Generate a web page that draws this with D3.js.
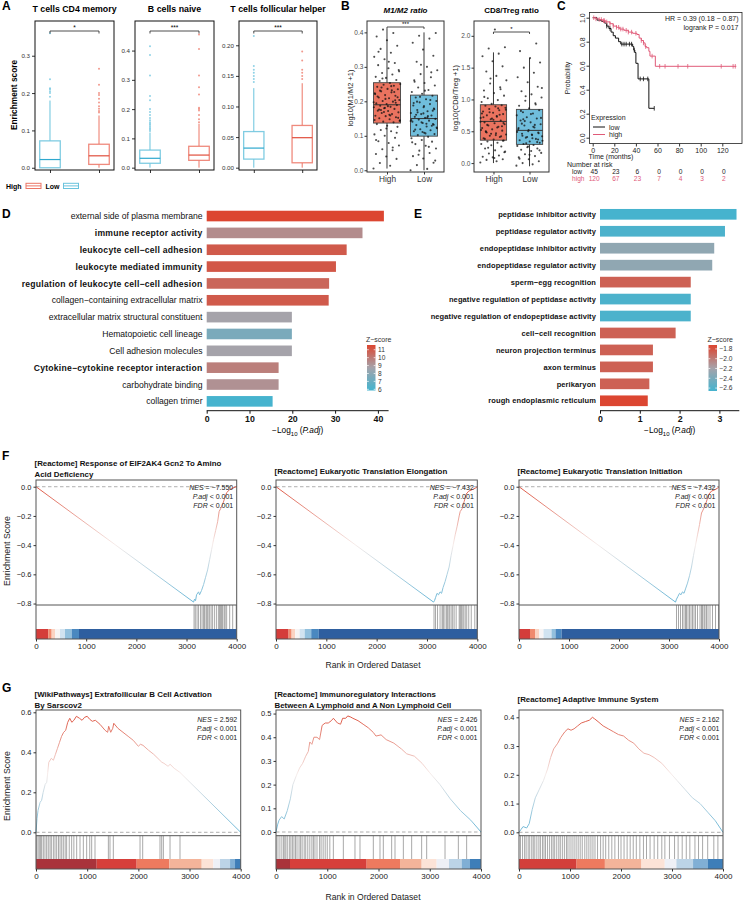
<!DOCTYPE html>
<html>
<head>
<meta charset="utf-8">
<script src="https://cdn.jsdelivr.net/npm/d3@7"></script>
<style>
  body { margin: 0; background: #fff; }
  svg { display: block; }
</style>
</head>
<body>
<script>
// ---------------- data ----------------

// A: immune cell enrichment, box stats = [lower whisker, Q1, median, Q3, upper whisker]
const aTitles = ["T cells CD4 memory", "B cells naive", "T cells follicular helper"];
const aGroups = ["Low", "High"];
const aSig = ["*", "***", "***"];
const cd4Low = [0, 0, 0.022, 0.072, 0.18];
const cd4High = [0, 0.009, 0.032, 0.063, 0.14];
const cd4LowOut = [0.19, 0.2, 0.205, 0.21, 0.213, 0.237, 0.36];
const cd4HighOut = [0.148, 0.152, 0.158, 0.165, 0.175, 0.185, 0.195, 0.2, 0.222, 0.265];
const bNaiveLow = [0, 0.015, 0.032, 0.06, 0.12];
const bNaiveHigh = [0, 0.025, 0.043, 0.073, 0.15];
const bNaiveLowOut = [0.125, 0.13, 0.135, 0.14, 0.146, 0.15, 0.155, 0.162, 0.17, 0.18, 0.19, 0.2, 0.23, 0.245, 0.315, 0.385, 0.415];
const bNaiveHighOut = [0.155, 0.165, 0.18, 0.195, 0.2, 0.205, 0.25, 0.275, 0.315, 0.405, 0.455];
const tfhLow = [0, 0.014, 0.032, 0.059, 0.13];
const tfhHigh = [0, 0.008, 0.049, 0.069, 0.138];
const tfhLowOut = [0.14, 0.145, 0.15, 0.155, 0.16, 0.166, 0.215];
const tfhHighOut = [0.145, 0.15, 0.155, 0.16, 0.175, 0.19];
const aTicks = [[0, 0.1, 0.2, 0.3], [0, 0.1, 0.2, 0.3, 0.4], [0, 0.05, 0.1, 0.15, 0.2]];

// B: macrophage / T cell ratios
const bTitles = ["M1/M2 ratio", "CD8/Treg ratio"];
const bYLabels = ["log10(M1/M2 +1)", "log10(CD8/Treg +1)"];
const bGroups = ["High", "Low"];
const bSig = ["***", "*"];
const m1m2HighBox = [0.005, 0.137, 0.19, 0.254, 0.41];
const m1m2LowBox = [0.0, 0.099, 0.15, 0.218, 0.40];
const cd8HighBox = [0.0, 0.36, 0.655, 0.917, 1.74];
const cd8LowBox = [-0.05, 0.294, 0.514, 0.844, 1.65];
const m1m2High = [0.005, 0.013, 0.021, 0.033, 0.04, 0.047, 0.058, 0.061, 0.072, 0.079, 0.084, 0.094, 0.1, 0.104, 0.113, 0.117, 0.126, 0.129, 0.134,
  0.139, 0.141, 0.145, 0.148, 0.151, 0.154, 0.157, 0.158, 0.163, 0.166, 0.168, 0.172, 0.173, 0.178, 0.18, 0.183, 0.184, 0.187, 0.189,
  0.192, 0.194, 0.199, 0.201, 0.204, 0.209, 0.211, 0.216, 0.218, 0.223, 0.226, 0.229, 0.235, 0.236, 0.242, 0.245, 0.248, 0.25, 0.253,
  0.259, 0.262, 0.268, 0.271, 0.278, 0.282, 0.291, 0.296, 0.305, 0.311, 0.322, 0.329, 0.341, 0.352, 0.361, 0.377, 0.388, 0.398, 0.408,
  0.143, 0.161, 0.176, 0.196, 0.207, 0.221, 0.232, 0.24, 0.152, 0.186, 0.214, 0.227, 0.169, 0.197, 0.159, 0.231, 0.109, 0.121,
  0.088, 0.066, 0.266, 0.287, 0.315, 0.344, 0.203, 0.181, 0.146, 0.244, 0.175, 0.212];
const m1m2Low = [0.0, 0.004, 0.015, 0.022, 0.034, 0.041, 0.05, 0.057, 0.063, 0.071, 0.076, 0.083, 0.088, 0.093, 0.097,
  0.102, 0.105, 0.109, 0.113, 0.116, 0.119, 0.122, 0.127, 0.131, 0.134, 0.137, 0.141, 0.144, 0.147, 0.149,
  0.152, 0.155, 0.159, 0.163, 0.166, 0.171, 0.175, 0.179, 0.183, 0.188, 0.192, 0.197, 0.201, 0.206, 0.211, 0.216,
  0.222, 0.227, 0.233, 0.24, 0.246, 0.253, 0.261, 0.27, 0.279, 0.29, 0.3, 0.315, 0.332, 0.35, 0.37, 0.382, 0.39, 0.398,
  0.107, 0.118, 0.129, 0.139, 0.146, 0.157, 0.168, 0.177, 0.186, 0.195, 0.204, 0.213, 0.124, 0.135, 0.161, 0.173, 0.111,
  0.081, 0.068, 0.045, 0.028, 0.231, 0.257, 0.284, 0.306, 0.143, 0.153, 0.199, 0.132, 0.165];
const cd8High = [0.01, 0.03, 0.05, 0.06, 0.09, 0.1, 0.12, 0.15, 0.18, 0.2, 0.23, 0.26, 0.28, 0.3, 0.32, 0.34, 0.355,
  0.37, 0.39, 0.41, 0.43, 0.45, 0.47, 0.49, 0.51, 0.53, 0.55, 0.57, 0.59, 0.61, 0.625, 0.64,
  0.67, 0.69, 0.71, 0.73, 0.75, 0.77, 0.79, 0.81, 0.83, 0.85, 0.87, 0.89, 0.9, 0.91,
  0.93, 0.96, 0.99, 1.02, 1.06, 1.1, 1.14, 1.19, 1.25, 1.3, 1.37, 1.44, 1.52, 1.6, 1.68, 1.72, 1.8, 1.82, 2.1,
  0.38, 0.42, 0.46, 0.52, 0.56, 0.6, 0.63, 0.68, 0.72, 0.76, 0.8, 0.84, 0.44, 0.5, 0.58, 0.7, 0.78, 0.86,
  0.24, 0.17, 0.08, 1.04, 1.16, 1.33, 0.65, 0.74, 0.48, 0.35];
const cd8Low = [-0.04, -0.02, 0.0, 0.03, 0.06, 0.09, 0.11, 0.14, 0.16, 0.19, 0.21, 0.23, 0.25, 0.27, 0.285,
  0.3, 0.32, 0.34, 0.36, 0.38, 0.4, 0.42, 0.44, 0.46, 0.48, 0.5,
  0.53, 0.56, 0.59, 0.61, 0.64, 0.67, 0.7, 0.72, 0.75, 0.78, 0.8, 0.83,
  0.86, 0.9, 0.94, 0.98, 1.03, 1.08, 1.13, 1.2, 1.27, 1.35, 1.42, 1.5, 1.58, 1.65, 1.76, 1.88,
  0.31, 0.35, 0.39, 0.43, 0.47, 0.52, 0.55, 0.6, 0.66, 0.71, 0.77, 0.82, 0.33, 0.41, 0.49, 0.57, 0.69,
  0.2, 0.13, 0.07, 0.92, 1.05, 1.18, 0.45, 0.62, 0.37, 0.26];
const bTicks = [[0, 0.1, 0.2, 0.3, 0.4], [0, 0.5, 1, 1.5, 2]];

// C: Kaplan-Meier
const kmMonths = [0, 20, 40, 60, 80, 100, 120];
const lowTimes = [0, 4, 8, 11, 13, 15, 17, 19, 21, 24, 26, 37, 38, 39, 40, 42, 52];
const lowSurv = [1.0, 0.98, 0.97, 0.955, 0.93, 0.91, 0.88, 0.85, 0.83, 0.80, 0.78, 0.76, 0.73, 0.71, 0.62, 0.49, 0.245];
const lowEnd = 57;
const lowCensor = [13, 16, 27, 29, 31, 34, 36, 38.5, 44, 47, 51, 57];
const highTimes = [0, 3, 6, 9, 12, 16, 19, 22, 25, 29, 33, 37, 41, 43, 45, 47, 48.5, 50, 52, 53, 58];
const highSurv = [1.0, 0.99, 0.985, 0.975, 0.965, 0.95, 0.93, 0.92, 0.905, 0.895, 0.88, 0.87, 0.86, 0.83, 0.81, 0.79, 0.76, 0.75, 0.72, 0.68, 0.595];
const highEnd = 133;
const highCensor = [1, 3, 6, 8, 10, 11, 13, 16, 19, 22, 24, 26, 28, 31, 33, 36, 40, 45, 47, 49, 55, 62, 67, 79, 88, 119, 130, 132];
const riskLow = [45, 23, 6, 0, 0, 0, 0];
const riskHigh = [120, 67, 23, 7, 4, 3, 2];

// D / E: enrichment bars
const dTerms = ["external side of plasma membrane", "immune receptor activity", "leukocyte cell−cell adhesion",
  "leukocyte mediated immunity", "regulation of leukocyte cell−cell adhesion", "collagen−containing extracellular matrix",
  "extracellular matrix structural constituent", "Hematopoietic cell lineage", "Cell adhesion molecules",
  "Cytokine−cytokine receptor interaction", "carbohydrate binding", "collagen trimer"];
const dValues = [41.4, 36.4, 32.7, 30.2, 28.6, 28.5, 19.9, 19.9, 19.9, 16.8, 16.8, 15.4];
const dZ = [11.55, 9.45, 10.95, 11.05, 10.6, 10.95, 8.75, 7.5, 8.75, 9.85, 9.3, 6.0];
const dZTicks = [6, 7, 8, 9, 10, 11];
const dXTicks = [0, 10, 20, 30, 40];
const eTerms = ["peptidase inhibitor activity", "peptidase regulator activity", "endopeptidase inhibitor activity",
  "endopeptidase regulator activity", "sperm−egg recognition", "negative regulation of peptidase activity",
  "negative regulation of endopeptidase activity", "cell−cell recognition", "neuron projection terminus",
  "axon terminus", "perikaryon", "rough endoplasmic reticulum"];
const eValues = [3.43, 3.14, 2.87, 2.82, 2.28, 2.28, 2.28, 1.90, 1.33, 1.33, 1.24, 1.20];
const eZ = [-2.65, -2.62, -2.3, -2.3, -1.87, -2.62, -2.62, -1.87, -1.87, -1.87, -1.87, -1.74];
const eZTicks = [-2.6, -2.4, -2.2, -2.0, -1.8];
const eXTicks = [0, 1, 2, 3];

// F / G: GSEA
const rankTicks = [0, 1000, 2000, 3000, 4000];
const fTitles = [["[Reactome] Response of EIF2AK4 Gcn2 To Amino", "Acid Deficiency"],
  ["[Reactome] Eukaryotic Translation Elongation"], ["[Reactome] Eukaryotic Translation Initiation"]];
const fNES = ["−7.550", "−7.432", "−7.432"];
const gTitles = [["[WikiPathways] Extrafollicular B Cell Activation", "By Sarscov2"],
  ["[Reactome] Immunoregulatory Interactions", "Between A Lymphoid and A Non Lymphoid Cell"],
  ["[Reactome] Adaptive Immune System"]];
const gNES = ["2.592", "2.426", "2.162"];
const fTicks = [-0.8, -0.6, -0.4, -0.2, 0.0];
const gTicks = [[0, 0.2, 0.4, 0.6], [0, 0.1, 0.2, 0.3, 0.4, 0.5], [0, 0.1, 0.2, 0.3, 0.4]];

const f1ES = [[0, 0], [3140, -0.79], [3160, -0.77], [3180, -0.78], [3200, -0.74], [3240, -0.72], [3260, -0.74], [3300, -0.71],
  [3340, -0.67], [3380, -0.62], [3420, -0.57], [3460, -0.5], [3500, -0.43], [3540, -0.36], [3580, -0.3], [3620, -0.24],
  [3650, -0.17], [3680, -0.15], [3720, -0.12], [3760, -0.08], [3800, -0.04], [3860, -0.02], [3920, -0.01], [3990, 0.0], [4000, 0.0]];
const f2ES = [[0, 0], [3130, -0.79], [3150, -0.78], [3170, -0.76], [3200, -0.73], [3230, -0.74], [3260, -0.72], [3290, -0.73],
  [3320, -0.69], [3360, -0.65], [3400, -0.6], [3440, -0.55], [3480, -0.47], [3520, -0.4], [3560, -0.33], [3600, -0.27],
  [3640, -0.2], [3660, -0.17], [3700, -0.15], [3740, -0.1], [3780, -0.05], [3830, -0.03], [3900, -0.02], [3960, -0.01], [4000, 0.0]];
const f3ES = [[0, 0], [3130, -0.79], [3150, -0.77], [3180, -0.75], [3210, -0.73], [3240, -0.74], [3270, -0.72], [3300, -0.73],
  [3330, -0.7], [3370, -0.66], [3410, -0.61], [3450, -0.55], [3490, -0.47], [3530, -0.4], [3570, -0.33], [3610, -0.26],
  [3650, -0.18], [3680, -0.16], [3720, -0.13], [3760, -0.09], [3800, -0.05], [3850, -0.03], [3920, -0.02], [3970, -0.01], [4000, 0.0]];
const g1ES = [[0, 0], [20, 0.07], [40, 0.11], [80, 0.15], [110, 0.16], [140, 0.2], [180, 0.24], [210, 0.25], [230, 0.3], [250, 0.35],
  [300, 0.37], [340, 0.36], [380, 0.39], [420, 0.42], [460, 0.45], [500, 0.48], [540, 0.5], [580, 0.51], [620, 0.55], [660, 0.57],
  [700, 0.55], [740, 0.56], [790, 0.58], [850, 0.57], [900, 0.56], [950, 0.575], [1000, 0.58], [1050, 0.565], [1100, 0.555],
  [1160, 0.56], [1250, 0.54], [1350, 0.51], [1400, 0.5], [1420, 0.53], [1460, 0.5], [1500, 0.52], [1520, 0.545], [1600, 0.52],
  [1700, 0.5], [1800, 0.48], [1900, 0.46], [2000, 0.43], [2040, 0.44], [2090, 0.435], [2200, 0.41], [2300, 0.39], [2420, 0.36],
  [2460, 0.35], [2500, 0.345], [2580, 0.33], [2620, 0.34], [2700, 0.32], [2810, 0.3], [4000, 0.0]];
const g2ES = [[0, 0], [30, 0.03], [60, 0.05], [110, 0.065], [160, 0.055], [220, 0.09], [280, 0.14], [330, 0.2], [400, 0.24],
  [460, 0.27], [520, 0.29], [580, 0.32], [630, 0.34], [660, 0.38], [700, 0.37], [740, 0.4], [800, 0.4], [850, 0.39], [900, 0.45],
  [960, 0.46], [1020, 0.46], [1080, 0.47], [1120, 0.48], [1200, 0.46], [1260, 0.455], [1300, 0.48], [1360, 0.48], [1400, 0.49],
  [1460, 0.485], [1500, 0.48], [1600, 0.47], [1700, 0.455], [1800, 0.44], [1900, 0.42], [1950, 0.405], [2050, 0.41], [2150, 0.39],
  [2300, 0.375], [2450, 0.35], [2550, 0.33], [2700, 0.32], [2850, 0.29], [3000, 0.25], [3200, 0.2], [3400, 0.14], [3600, 0.09],
  [3800, 0.05], [4000, 0.0]];
const g3ES = [[0, 0], [40, 0.01], [80, 0.02], [150, 0.015], [200, 0.03], [260, 0.08], [320, 0.12], [400, 0.15], [480, 0.18],
  [560, 0.22], [620, 0.26], [680, 0.29], [760, 0.31], [820, 0.33], [900, 0.35], [960, 0.36], [1020, 0.355], [1080, 0.36],
  [1150, 0.37], [1220, 0.38], [1300, 0.385], [1380, 0.39], [1440, 0.4], [1480, 0.395], [1550, 0.385], [1650, 0.37], [1750, 0.36],
  [1850, 0.35], [1950, 0.34], [2050, 0.335], [2150, 0.32], [2250, 0.31], [2350, 0.29], [2450, 0.275], [2550, 0.27], [2650, 0.26],
  [2800, 0.24], [2950, 0.21], [3100, 0.18], [3250, 0.15], [3400, 0.12], [3550, 0.1], [3700, 0.07], [3850, 0.04], [4000, 0.0]];

const f1Hits = [3150, 3175, 3210, 3240, 3280, 3310, 3340, 3360, 3390, 3410, 3430, 3460, 3490, 3520, 3560, 3600, 3640, 3660, 3680, 3700, 3720, 3750, 3770, 3800, 3860, 3920, 3990];
const f2Hits = [3140, 3170, 3210, 3260, 3300, 3320, 3340, 3380, 3400, 3420, 3450, 3480, 3510, 3540, 3580, 3640, 3660, 3680, 3700, 3730, 3760, 3790, 3830, 3880, 3950, 3995];
const f3Hits = [3150, 3190, 3230, 3270, 3300, 3330, 3350, 3380, 3410, 3440, 3470, 3500, 3530, 3570, 3620, 3650, 3670, 3700, 3720, 3750, 3780, 3820, 3870, 3930, 3990];
const g1Hits = [13, 40, 65, 90, 111, 143, 175, 208, 240, 274, 300, 339, 371, 404, 440, 470, 502, 534, 570, 599, 650, 697, 740, 795,
  860, 925, 990, 1050, 1088, 1153, 1414, 1446, 1511, 2033, 2085, 2423, 2456, 2489, 2619, 2814];
const g2Hits = [20, 60, 100, 140, 160, 190, 220, 260, 290, 320, 350, 380, 410, 450, 480, 510, 550, 580, 620, 660, 700, 730, 760,
  800, 850, 880, 920, 960, 1000, 1050, 1119, 1314, 1541, 1639, 1899, 2029, 2094, 2257, 2322, 2485, 2647, 2842, 2940, 3298, 3558, 3720];
const g3Hits = [30, 70, 110, 140, 180, 210, 250, 280, 310, 350, 390, 420, 460, 490, 520, 560, 600, 640, 670, 700, 740, 780, 810,
  850, 890, 930, 960, 1000, 1040, 1080, 1120, 1160, 1200, 1240, 1290, 1330, 1370, 1410, 1450, 1490, 1540, 1600, 1650, 1700, 1760,
  1820, 1880, 1950, 2000, 2060, 2120, 2180, 2240, 2300, 2370, 2440, 2500, 2570, 2650, 2720, 2800, 2860, 2950, 3050, 3120, 3200,
  3280, 3350, 3450, 3520, 3600, 3700, 3820, 3900];

// ranked-list colour bands: band edges (rank) and colours
const f1Bands = [0, 246, 312, 379, 478, 578, 711, 857, 4000];
const f2Bands = [0, 250, 310, 380, 470, 570, 700, 850, 4000];
const f3Bands = [0, 220, 320, 400, 490, 650, 730, 853, 4000];
const fBandColors = ["#D43D3A", "#F08A6E", "#FBD3C2", "#F7F4F4", "#D1E3F0", "#92C0DD", "#4A88C0", "#2E5E9F"];
const g1Bands = [0, 1186, 1967, 2606, 3238, 3466, 3596, 3792, 3889, 4000];
const g2Bands = [0, 273, 1769, 2420, 2842, 3135, 3376, 3622, 3785, 4000];
const gBandColors = ["#A9333B", "#D63F3A", "#EE7A5F", "#F4B49A", "#FCE3D7", "#EEF0F6", "#BCD4E7", "#80AFD5", "#3E7EB8"];
const g3Bands = [0, 1129, 1684, 2401, 2858, 3086, 3413, 3706, 4000];
const g3BandColors = ["#D33F3A", "#EE7A5F", "#F4B49A", "#FCE3D7", "#EEF0F6", "#BCD4E7", "#80AFD5", "#3E7EB8"];

// ---------------- drawing ----------------
const FONT = '"Liberation Sans", Arial, Helvetica, sans-serif';
const svg = d3.select("body").append("svg")
  .attr("width", 745).attr("height", 903)
  .attr("font-family", FONT);
const defs = svg.append("defs");

function txt(x, y, s, size, o = {}) {
  const t = svg.append("text").attr("x", x).attr("y", y)
    .attr("font-size", size)
    .attr("text-anchor", o.anchor || "start")
    .attr("fill", o.fill || "#000");
  if (o.bold) t.attr("font-weight", "bold");
  if (o.italic) t.attr("font-style", "italic");
  if (o.rotate) t.attr("transform", `rotate(${o.rotate},${x},${y})`);
  if (o.spacing) t.attr("letter-spacing", o.spacing);
  t.text(s);
  return t;
}

function styleAxis(sel, size, color, bold) {
  sel.attr("font-family", FONT);
  sel.select(".domain").remove();
  sel.selectAll("line").attr("stroke", "#333");
  sel.selectAll("text").attr("font-size", size).attr("fill", color || "#333")
    .attr("font-weight", bold ? "bold" : null);
  return sel;
}

// panel letters
[["A", 2, 10], ["B", 341, 10], ["C", 557, 10], ["D", 2, 218], ["E", 414, 218], ["F", 2, 460], ["G", 2, 692]]
  .forEach(([s, x, y]) => txt(x, y, s, 12, { bold: true }));

// ===== A =====
const aFrames = [[35, 114], [135, 214], [239, 317]];
const aDomains = [[-0.006, 0.393], [-0.008, 0.501], [-0.0038, 0.2397]];
const aStats = [[cd4Low, cd4High], [bNaiveLow, bNaiveHigh], [tfhLow, tfhHigh]];
const aOut = [[cd4LowOut, cd4HighOut], [bNaiveLowOut, bNaiveHighOut], [tfhLowOut, tfhHighOut]];
const aStroke = { Low: "#6AC3DD", High: "#EC7666" };
const aMedian = { Low: "#2EA8CE", High: "#E04E3C" };
const aTop = 21, aBot = 170;

aTitles.forEach((title, i) => {
  const [x0, x1] = aFrames[i];
  const y = d3.scaleLinear().domain(aDomains[i]).range([aBot, aTop]);
  const x = d3.scalePoint().domain(aGroups).range([x0, x1]).padding(0.306);
  const bw = (x1 - x0) * 0.26;
  txt((x0 + x1) / 2, 12, title, 8.8, { bold: true, anchor: "middle" });

  styleAxis(svg.append("g").attr("transform", `translate(${x0},0)`)
    .call(d3.axisLeft(y).tickValues(aTicks[i]).tickSize(3).tickPadding(2)
      .tickFormat(d3.format(i === 2 ? ".2f" : ".1f"))), 6.2);
  styleAxis(svg.append("g").attr("transform", `translate(0,${aBot})`)
    .call(d3.axisBottom(x).tickSize(3).tickFormat("")), 6);

  aGroups.forEach((grp, j) => {
    const s = aStats[i][j], cx = x(grp), c = aStroke[grp];
    const g = svg.append("g");
    g.append("line").attr("x1", cx).attr("x2", cx).attr("y1", y(s[0])).attr("y2", y(s[1]))
      .attr("stroke", c).attr("stroke-width", 1);
    g.append("line").attr("x1", cx).attr("x2", cx).attr("y1", y(s[3])).attr("y2", y(s[4]))
      .attr("stroke", c).attr("stroke-width", 1);
    g.append("rect").attr("x", cx - bw / 2).attr("width", bw)
      .attr("y", y(s[3])).attr("height", y(s[1]) - y(s[3]))
      .attr("fill", "#fff").attr("stroke", c).attr("stroke-width", 1.3).attr("stroke-opacity", 0.85);
    g.append("line").attr("x1", cx - bw / 2).attr("x2", cx + bw / 2).attr("y1", y(s[2])).attr("y2", y(s[2]))
      .attr("stroke", aMedian[grp]).attr("stroke-width", 1.2);
    g.selectAll("circle").data(aOut[i][j]).join("circle")
      .attr("cx", cx).attr("cy", d => y(d)).attr("r", 1)
      .attr("fill", c).attr("fill-opacity", 0.75);
  });

  svg.append("rect").attr("x", x0).attr("y", aTop).attr("width", x1 - x0).attr("height", aBot - aTop)
    .attr("fill", "none").attr("stroke", "#111").attr("stroke-width", 1);

  // significance bracket
  const xl = x("Low"), xh = x("High"), by = 31;
  svg.append("path").attr("d", `M${xl},${by + 2.5}V${by}H${xh}V${by + 2.5}`)
    .attr("fill", "none").attr("stroke", "#222").attr("stroke-width", 0.8);
  txt((xl + xh) / 2, by - 1.5, aSig[i], 6.5, { anchor: "middle" });
});
txt(16.5, 95, "Enrichment score", 8.3, { bold: true, anchor: "middle", rotate: -90 });

// legend A
[["High", 6, 26, "#EC7666"], ["Low", 45.5, 63.5, "#6AC3DD"]].forEach(([lab, tx, ix, c]) => {
  txt(tx, 188.5, lab, 7, { bold: true });
  svg.append("rect").attr("x", ix).attr("y", 183.3).attr("width", 15).attr("height", 5.2)
    .attr("fill", "#fff").attr("stroke", c).attr("stroke-width", 1);
  svg.append("line").attr("x1", ix).attr("x2", ix + 15).attr("y1", 185.9).attr("y2", 185.9)
    .attr("stroke", c).attr("stroke-width", 1);
});

// ===== B =====
const bFrames = [[367, 444], [474, 549]];
const bDomains = [[-0.005, 0.433], [-0.14, 2.233]];
const bBoxes = [[m1m2HighBox, m1m2LowBox], [cd8HighBox, cd8LowBox]];
const bPoints = [[m1m2High, m1m2Low], [cd8High, cd8Low]];
const bFill = { High: "#EA735F", Low: "#70BEDC" };
const bTop = 21, bBot = 172;
const bLabelX = [353, 458];

bTitles.forEach((title, i) => {
  const [x0, x1] = bFrames[i];
  const y = d3.scaleLinear().domain(bDomains[i]).range([bBot, bTop]);
  const x = d3.scalePoint().domain(bGroups).range([x0, x1]).padding(0.54);
  const bw = (x1 - x0) * 0.35;
  txt((x0 + x1) / 2, 12.5, title, 8, { bold: true, italic: i === 0, anchor: "middle" });
  txt(bLabelX[i], 98, bYLabels[i], 7.5, { anchor: "middle", rotate: -90, fill: "#222" });

  styleAxis(svg.append("g").attr("transform", `translate(${x0},0)`)
    .call(d3.axisLeft(y).tickValues(bTicks[i]).tickSize(2.5).tickPadding(1.2).tickFormat(d3.format(".1f"))), 6.5, "#4d4d4d");
  styleAxis(svg.append("g").attr("transform", `translate(0,${bBot})`)
    .call(d3.axisBottom(x).tickSize(2.5).tickPadding(1.5)), 8.3, "#333");

  bGroups.forEach((grp, j) => {
    const s = bBoxes[i][j], cx = x(grp);
    const g = svg.append("g");
    g.append("line").attr("x1", cx).attr("x2", cx).attr("y1", y(s[0])).attr("y2", y(s[4]))
      .attr("stroke", "#222").attr("stroke-width", 0.9);
    g.append("rect").attr("x", cx - bw / 2).attr("width", bw)
      .attr("y", y(s[3])).attr("height", y(s[1]) - y(s[3]))
      .attr("fill", bFill[grp]).attr("stroke", "#444").attr("stroke-width", 0.9);
    g.append("line").attr("x1", cx - bw / 2).attr("x2", cx + bw / 2).attr("y1", y(s[2])).attr("y2", y(s[2]))
      .attr("stroke", "#333").attr("stroke-width", 1);
    // deterministic jitter spread across the box width
    g.selectAll("circle").data(bPoints[i][j]).join("circle")
      .attr("cx", (d, k) => cx + (((k * 0.618034) % 1) - 0.5) * bw * 1.0)
      .attr("cy", d => y(d)).attr("r", 1.05)
      .attr("fill", "#111").attr("fill-opacity", 0.75);
  });

  svg.append("rect").attr("x", x0).attr("y", bTop).attr("width", x1 - x0).attr("height", bBot - bTop)
    .attr("fill", "none").attr("stroke", "#333").attr("stroke-width", 1);

  const xl = x("High"), xh = x("Low"), by = i === 0 ? 27 : 32;
  svg.append("path").attr("d", `M${xl},${by + 2}V${by}H${xh}V${by + 2}`)
    .attr("fill", "none").attr("stroke", "#222").attr("stroke-width", 0.8);
  txt((xl + xh) / 2, by - 1.5, bSig[i], 6, { anchor: "middle" });
});

// ===== C: Kaplan-Meier =====
{
  const x = d3.scaleLinear().domain([0, 120]).range([592.7, 722.3]);
  const y = d3.scaleLinear().domain([0, 1]).range([137.7, 17.7]);
  const fx0 = 589.5, fx1 = 742, fy0 = 12.5, fy1 = 143.5;
  const kmRed = "#E05A78";
  svg.append("rect").attr("x", fx0).attr("y", fy0).attr("width", fx1 - fx0).attr("height", fy1 - fy0)
    .attr("fill", "none").attr("stroke", "#222").attr("stroke-width", 0.8);

  const xa = svg.append("g").attr("transform", `translate(0,${fy1})`)
    .call(d3.axisBottom(x).tickValues(kmMonths).tickSize(3).tickPadding(1.5));
  styleAxis(xa, 7, "#222");
  const ya = svg.append("g").attr("transform", `translate(${fx0},0)`)
    .call(d3.axisLeft(y).tickValues([0, 0.2, 0.4, 0.6, 0.8, 1]).tickSize(3).tickFormat(d3.format(".1f")));
  styleAxis(ya, 7, "#222");
  ya.selectAll("text").attr("x", null).attr("dy", null).attr("text-anchor", "middle")
    .attr("transform", "translate(-5,0) rotate(-90)");

  const step = d3.line().curve(d3.curveStepAfter).x(d => x(d[0])).y(d => y(d[1]));
  const survAt = (times, surv, t) => surv[d3.bisectRight(times, t) - 1];
  [[lowTimes, lowSurv, lowEnd, lowCensor, "#111"], [highTimes, highSurv, highEnd, highCensor, kmRed]]
    .forEach(([times, surv, end, cens, col]) => {
      const pts = times.map((t, k) => [t, surv[k]]).concat([[end, surv[surv.length - 1]]]);
      svg.append("path").datum(pts).attr("d", step)
        .attr("fill", "none").attr("stroke", col).attr("stroke-width", 1);
      svg.selectAll(null).data(cens).join("line")
        .attr("x1", d => x(d)).attr("x2", d => x(d))
        .attr("y1", d => y(survAt(times, surv, d)) - 2.3).attr("y2", d => y(survAt(times, surv, d)) + 2.3)
        .attr("stroke", col).attr("stroke-width", 0.8);
    });

  txt(570, 78, "Probability", 7, { anchor: "middle", rotate: -90, fill: "#222" });
  txt(611, 158.5, "Time (months)", 7, { anchor: "middle", fill: "#222" });
  txt(738.5, 20.5, "HR = 0.39 (0.18 − 0.87)", 7, { anchor: "end", fill: "#222" });
  txt(738.5, 29.5, "logrank P = 0.017", 7, { anchor: "end", fill: "#222" });
  txt(591, 120, "Expression", 7, { fill: "#222" });
  [["low", 127, "#111"], ["high", 134.5, kmRed]].forEach(([lab, ly, col]) => {
    svg.append("line").attr("x1", 593).attr("x2", 605).attr("y1", ly).attr("y2", ly)
      .attr("stroke", col).attr("stroke-width", 1);
    txt(609, ly + 2.5, lab, 7, { fill: "#222" });
  });
  txt(567, 166.5, "Number at risk", 7, { fill: "#222" });
  txt(572, 174, "low", 6.6, { fill: "#222" });
  txt(572, 180.5, "high", 6.6, { fill: kmRed });
  kmMonths.forEach((m, k) => {
    txt(x(m) + 1.5, 174, riskLow[k], 6.6, { anchor: "middle", fill: "#222" });
    txt(x(m) + 1.5, 180.5, riskHigh[k], 6.6, { anchor: "middle", fill: kmRed });
  });
}

// ===== D / E: enrichment bar charts =====
function logAxisLabel(cx, y) {
  const t = svg.append("text").attr("x", cx).attr("y", y).attr("text-anchor", "middle").attr("font-size", 8.3);
  t.append("tspan").text("−Log");
  t.append("tspan").attr("font-size", 6).attr("dy", 2.5).text("10");
  t.append("tspan").attr("dy", -2.5).text(" (");
  t.append("tspan").attr("font-style", "italic").text("P.adj");
  t.append("tspan").text(")");
}

function barPanel(p) {
  const y = d3.scaleBand().domain(p.terms).range(p.yRange).paddingInner(0.37).paddingOuter(0.37);
  const x = d3.scaleLinear().domain([0, p.xMax]).range([p.x0, p.x0 + p.xMax * p.pxPerUnit]);
  const zExt = d3.extent(p.z);
  const color = d3.scaleLinear().domain([zExt[0], (zExt[0] + zExt[1]) / 2, zExt[1]])
    .range(["#46B3CE", "#A6A3AA", "#DC4631"]).clamp(true);

  svg.append("g").selectAll("rect").data(p.terms).join("rect")
    .attr("x", x(0)).attr("y", d => y(d))
    .attr("width", (d, k) => x(p.values[k]) - x(0)).attr("height", y.bandwidth())
    .attr("fill", (d, k) => color(p.z[k]));

  p.terms.forEach(t => {
    const isBold = p.bold.has(t);
    txt(p.labelX, y(t) + y.bandwidth() / 2 + p.labelSize * 0.36, t, p.labelSize,
      { anchor: "end", bold: isBold, fill: "#111", spacing: isBold ? p.boldSpacing : null });
  });

  const ax = svg.append("g").attr("transform", `translate(0,${p.axisY})`)
    .call(d3.axisBottom(x).tickValues(p.xTicks).tickSize(3).tickPadding(2).tickFormat(d3.format("d")));
  styleAxis(ax, 8.8, "#111", true);
  ax.append("line").attr("x1", x(0)).attr("x2", x(p.xMax)).attr("stroke", "#111").attr("stroke-width", 1);
  ax.selectAll(".tick line").attr("stroke", "#111");
  logAxisLabel((x(0) + x(p.xMax)) / 2, 433);

  // colour legend
  const lz = d3.scaleLinear().domain(p.legDomain).range([p.legY1, p.legY0]);
  const gid = p.id;
  const grad = defs.append("linearGradient").attr("id", gid).attr("x1", 0).attr("x2", 0).attr("y1", 1).attr("y2", 0);
  d3.range(0, 1.0001, 0.1).forEach(f => {
    const zv = p.legDomain[0] + f * (p.legDomain[1] - p.legDomain[0]);
    grad.append("stop").attr("offset", f).attr("stop-color", color(zv));
  });
  svg.append("rect").attr("x", p.legX).attr("y", p.legY0).attr("width", 8.5).attr("height", p.legY1 - p.legY0)
    .attr("fill", `url(#${gid})`);
  p.zTicks.forEach(v => {
    svg.append("line").attr("x1", p.legX).attr("x2", p.legX + 1.8).attr("y1", lz(v)).attr("y2", lz(v)).attr("stroke", "#fff").attr("stroke-width", 0.7);
    svg.append("line").attr("x1", p.legX + 6.7).attr("x2", p.legX + 8.5).attr("y1", lz(v)).attr("y2", lz(v)).attr("stroke", "#fff").attr("stroke-width", 0.7);
    txt(p.legX + 11, lz(v) + 2.3, p.zFormat(v), 6.6, { fill: "#333" });
  });
  txt(p.legX - 1, p.legY0 - 3, "Z−score", 7, { fill: "#333" });
}

barPanel({
  id: "gradD", terms: dTerms, values: dValues, z: dZ, xMax: 42.5, x0: 206.7, pxPerUnit: 4.28,
  yRange: [204.5, 412.9], axisY: 410.7, xTicks: dXTicks, labelX: 202.5, labelSize: 8.6, boldSpacing: 0.25,
  bold: new Set(["immune receptor activity", "leukocyte cell−cell adhesion", "leukocyte mediated immunity",
    "regulation of leukocyte cell−cell adhesion", "Cytokine−cytokine receptor interaction"]),
  legX: 367, legY0: 345, legY1: 390.5, legDomain: [5.85, 11.6], zTicks: dZTicks, zFormat: d3.format("d")
});
barPanel({
  id: "gradE", terms: eTerms, values: eValues, z: eZ, xMax: 3.5, x0: 600, pxPerUnit: 39.8,
  yRange: [202.7, 412.4], axisY: 410.7, xTicks: eXTicks, labelX: 596, labelSize: 7.5, boldSpacing: 0.1,
  bold: new Set(eTerms),
  legX: 708.5, legY0: 345, legY1: 391, legDomain: [-2.66, -1.72], zTicks: eZTicks, zFormat: d3.format(".1f")
});

// ===== F / G: GSEA plots =====
function gsea(p) {
  const x = d3.scaleLinear().domain([0, 4000]).range([p.x0, p.x1]);
  const y = d3.scaleLinear().domain(p.domain).range([p.yMid, p.yTop]);
  const g = svg.append("g");

  g.selectAll(".hit").data(p.hits).join("line")
    .attr("x1", d => x(d)).attr("x2", d => x(d)).attr("y1", p.yMid).attr("y2", p.yBar)
    .attr("stroke", "#000").attr("stroke-opacity", 0.38).attr("stroke-width", 0.9);
  g.selectAll(".band").data(p.bandColors).join("rect")
    .attr("x", (d, k) => x(p.bands[k])).attr("width", (d, k) => x(p.bands[k + 1]) - x(p.bands[k]))
    .attr("y", p.yBar).attr("height", p.yBot - p.yBar).attr("fill", d => d);

  g.append("line").attr("x1", p.x0).attr("x2", p.x1).attr("y1", y(0)).attr("y2", y(0))
    .attr("stroke", "#9a9a9a").attr("stroke-dasharray", "3.5,2.5").attr("stroke-width", 0.8);

  const [lo, hi] = d3.extent(p.es, d => d[1]);
  const grad = defs.append("linearGradient").attr("id", p.id).attr("gradientUnits", "userSpaceOnUse")
    .attr("x1", 0).attr("x2", 0).attr("y1", y(hi)).attr("y2", y(lo));
  grad.append("stop").attr("offset", 0).attr("stop-color", "#DD5744");
  grad.append("stop").attr("offset", 0.5).attr("stop-color", "#F6ECEA");
  grad.append("stop").attr("offset", 1).attr("stop-color", "#6AB6D6");
  g.append("path").datum(p.es)
    .attr("d", d3.line().x(d => x(d[0])).y(d => y(d[1])))
    .attr("fill", "none").attr("stroke", `url(#${p.id})`).attr("stroke-width", 1);

  g.append("rect").attr("x", p.x0).attr("y", p.yTop).attr("width", p.x1 - p.x0).attr("height", p.yBot - p.yTop)
    .attr("fill", "none").attr("stroke", "#555").attr("stroke-width", 1);
  g.append("line").attr("x1", p.x0).attr("x2", p.x1).attr("y1", p.yMid).attr("y2", p.yMid)
    .attr("stroke", "#555").attr("stroke-width", 1);

  styleAxis(svg.append("g").attr("transform", `translate(${p.x0},0)`)
    .call(d3.axisLeft(y).tickValues(p.ticks).tickSize(2.5).tickPadding(2).tickFormat(d3.format(".1f"))), 7.5, "#222");
  styleAxis(svg.append("g").attr("transform", `translate(0,${p.yBot})`)
    .call(d3.axisBottom(x).tickValues(rankTicks).tickSize(2.5).tickPadding(2).tickFormat(d3.format("d"))), 8, "#222");

  p.title.forEach((line, k) => {
    const ty = p.title.length === 1 ? p.titleY1 : p.titleY2 + (k - 1) * 11;
    txt(p.x0 - 1.5, ty, line, 7.9, { bold: true, fill: "#111" });
  });

  const rx = p.x1 - 3.5;
  [["NES", " = " + p.nes], ["P.adj", " < 0.001"], ["FDR", " < 0.001"]].forEach(([a, b], k) => {
    const t = svg.append("text").attr("x", rx).attr("y", p.statY + k * 9)
      .attr("text-anchor", "end").attr("font-size", 7).attr("fill", "#222");
    t.append("tspan").attr("font-style", "italic").text(a);
    t.append("tspan").text(b);
  });
}

const fFrames = [[36, 236.7], [276, 477.3], [519, 719]];
const fES = [f1ES, f2ES, f3ES], fHits = [f1Hits, f2Hits, f3Hits], fBands = [f1Bands, f2Bands, f3Bands];
fFrames.forEach(([x0, x1], i) => gsea({
  id: "esF" + i, x0, x1, yTop: 480, yMid: 605, yBar: 629, yBot: 639,
  domain: [-0.81, 0.046], ticks: fTicks, title: fTitles[i], titleY1: 473.5, titleY2: 477,
  nes: fNES[i], statY: 490, es: fES[i], hits: fHits[i], bands: fBands[i], bandColors: fBandColors
}));
txt(9.5, 551, "Enrichment Score", 8.8, { anchor: "middle", rotate: -90, fill: "#222" });
txt(373, 668, "Rank in Ordered Dataset", 8.6, { anchor: "middle", fill: "#222" });

const gFrames = [[36, 240.7], [276, 481], [519, 723]];
const gDomains = [[-0.017, 0.6115], [-0.0156, 0.515], [-0.0118, 0.4254]];
const gES = [g1ES, g2ES, g3ES], gHits = [g1Hits, g2Hits, g3Hits];
const gBands = [g1Bands, g2Bands, g3Bands], gBandCols = [gBandColors, gBandColors, g3BandColors];
gFrames.forEach(([x0, x1], i) => gsea({
  id: "esG" + i, x0, x1, yTop: 710, yMid: 835.7, yBar: 859, yBot: 869,
  domain: gDomains[i], ticks: gTicks[i], title: gTitles[i], titleY1: 702, titleY2: 708,
  nes: gNES[i], statY: 721.5, es: gES[i], hits: gHits[i], bands: gBands[i], bandColors: gBandCols[i]
}));
txt(9.5, 786, "Enrichment Score", 8.8, { anchor: "middle", rotate: -90, fill: "#222" });
txt(373, 900, "Rank in Ordered Dataset", 8.6, { anchor: "middle", fill: "#222" });
</script>
</body>
</html>
